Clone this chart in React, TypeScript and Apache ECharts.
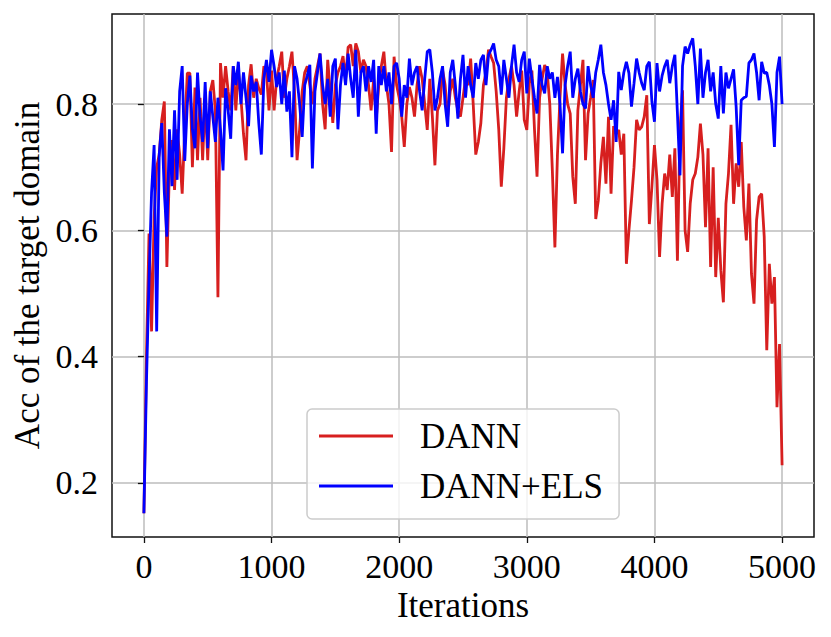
import React, { useEffect, useRef } from "react";
import * as echarts from "echarts";

const STEP = 20;
const iterations: number[] = Array.from({ length: 251 }, (_, i) => i * STEP);

const dann: number[] = [
  0.152, 0.40, 0.595, 0.44, 0.62, 0.70, 0.72, 0.775, 0.804, 0.542,
  0.70, 0.743, 0.664, 0.76, 0.72, 0.658, 0.76, 0.849, 0.849, 0.70,
  0.826, 0.711, 0.81, 0.711, 0.81, 0.711, 0.82, 0.838, 0.79, 0.494,
  0.865, 0.81, 0.86, 0.82, 0.79, 0.86, 0.79, 0.853, 0.81, 0.753,
  0.711, 0.83, 0.863, 0.81, 0.84, 0.825, 0.815, 0.86, 0.85, 0.79,
  0.853, 0.79, 0.84, 0.86, 0.883, 0.81, 0.84, 0.86, 0.883, 0.82,
  0.711, 0.76, 0.82, 0.85, 0.86, 0.83, 0.80, 0.84, 0.86, 0.88,
  0.80, 0.76, 0.87, 0.82, 0.77, 0.83, 0.85, 0.86, 0.876, 0.84,
  0.89, 0.894, 0.86, 0.896, 0.883, 0.85, 0.87, 0.86, 0.83, 0.79,
  0.84, 0.775, 0.83, 0.86, 0.883, 0.83, 0.80, 0.724, 0.875, 0.83,
  0.81, 0.78, 0.732, 0.80, 0.827, 0.81, 0.78, 0.83, 0.86, 0.84,
  0.80, 0.759, 0.84, 0.78, 0.703, 0.79, 0.80, 0.854, 0.83, 0.78,
  0.82, 0.84, 0.81, 0.79, 0.78, 0.81, 0.84, 0.83, 0.872, 0.80,
  0.72, 0.74, 0.77, 0.83, 0.85, 0.886, 0.875, 0.865, 0.82, 0.76,
  0.669, 0.73, 0.81, 0.84, 0.86, 0.83, 0.78, 0.82, 0.853, 0.775,
  0.759, 0.833, 0.853, 0.76, 0.685, 0.81, 0.84, 0.862, 0.85, 0.80,
  0.695, 0.573, 0.72, 0.81, 0.88, 0.83, 0.80, 0.785, 0.685, 0.642,
  0.79, 0.83, 0.87, 0.711, 0.785, 0.81, 0.838, 0.618, 0.647, 0.706,
  0.748, 0.674, 0.78, 0.658, 0.765, 0.753, 0.759, 0.72, 0.753, 0.547,
  0.60, 0.647, 0.70, 0.775, 0.759, 0.764, 0.78, 0.814, 0.61, 0.669,
  0.735, 0.68, 0.558, 0.642, 0.69, 0.664, 0.72, 0.653, 0.73, 0.552,
  0.759, 0.822, 0.60, 0.566, 0.642, 0.68, 0.69, 0.716, 0.769, 0.72,
  0.605, 0.73, 0.542, 0.70, 0.526, 0.62, 0.537, 0.486, 0.642, 0.69,
  0.767, 0.642, 0.706, 0.669, 0.74, 0.637, 0.584, 0.674, 0.531, 0.484,
  0.616, 0.653, 0.658, 0.59, 0.41, 0.547, 0.484, 0.526, 0.32, 0.42,
  0.228,
];

const dannEls: number[] = [
  0.152, 0.36, 0.52, 0.66, 0.735, 0.44, 0.72, 0.77, 0.66, 0.59,
  0.76, 0.67, 0.79, 0.68, 0.82, 0.86, 0.71, 0.80, 0.845, 0.76,
  0.73, 0.85, 0.78, 0.74, 0.835, 0.73, 0.82, 0.78, 0.74, 0.81,
  0.76, 0.695, 0.825, 0.79, 0.745, 0.86, 0.83, 0.867, 0.80, 0.85,
  0.81, 0.765, 0.845, 0.82, 0.835, 0.77, 0.72, 0.84, 0.87, 0.835,
  0.886, 0.86, 0.827, 0.85, 0.80, 0.853, 0.788, 0.82, 0.716, 0.86,
  0.84, 0.80, 0.748, 0.83, 0.845, 0.862, 0.698, 0.82, 0.85, 0.88,
  0.83, 0.80, 0.84, 0.78, 0.86, 0.872, 0.76, 0.83, 0.865, 0.83,
  0.88, 0.84, 0.81, 0.886, 0.78, 0.85, 0.86, 0.82, 0.86, 0.835,
  0.87, 0.753, 0.86, 0.83, 0.86, 0.82, 0.85, 0.80, 0.86, 0.865,
  0.84, 0.78, 0.83, 0.81, 0.872, 0.83, 0.85, 0.86, 0.82, 0.79,
  0.84, 0.883, 0.886, 0.85, 0.79, 0.81, 0.84, 0.86, 0.80, 0.764,
  0.85, 0.87, 0.83, 0.777, 0.84, 0.878, 0.81, 0.86, 0.83, 0.81,
  0.865, 0.84, 0.87, 0.878, 0.83, 0.878, 0.886, 0.896, 0.87, 0.86,
  0.815, 0.87, 0.84, 0.81, 0.86, 0.894, 0.85, 0.835, 0.87, 0.883,
  0.817, 0.872, 0.84, 0.81, 0.785, 0.862, 0.83, 0.817, 0.86, 0.84,
  0.85, 0.81, 0.843, 0.80, 0.722, 0.83, 0.86, 0.883, 0.81, 0.84,
  0.856, 0.82, 0.80, 0.793, 0.86, 0.83, 0.81, 0.85, 0.87, 0.894,
  0.85, 0.83, 0.80, 0.775, 0.806, 0.74, 0.851, 0.822, 0.85, 0.867,
  0.849, 0.796, 0.833, 0.872, 0.85, 0.833, 0.822, 0.86, 0.867, 0.804,
  0.772, 0.865, 0.82, 0.845, 0.86, 0.87, 0.833, 0.86, 0.878, 0.785,
  0.687, 0.86, 0.891, 0.88, 0.894, 0.904, 0.86, 0.80, 0.888, 0.81,
  0.85, 0.87, 0.82, 0.85, 0.80, 0.777, 0.86, 0.785, 0.85, 0.825,
  0.84, 0.855, 0.796, 0.703, 0.806, 0.81, 0.812, 0.865, 0.87, 0.88,
  0.85, 0.806, 0.867, 0.849, 0.85, 0.83, 0.80, 0.732, 0.85, 0.875,
  0.80,
];

const seriesNames = ["DANN", "DANN+ELS"];
const seriesColors = ["#d71f1f", "#0000ff"];
const xTicks = [0, 1000, 2000, 3000, 4000, 5000];
const yTicks = [0.2, 0.4, 0.6, 0.8];

const FONT = '"Liberation Serif", "Times New Roman", Times, serif';

export default function App() {
  const ref = useRef<HTMLDivElement>(null);

  useEffect(() => {
    if (!ref.current) return;
    const chart = echarts.init(ref.current, undefined, { renderer: "svg" });
    const toPairs = (vals: number[]) => iterations.map((x, i) => [x, vals[i]]);
    const gridLine = { show: true, lineStyle: { color: "#bdbdbd", width: 1.5 } };

    chart.setOption({
      animation: false,
      backgroundColor: "#ffffff",
      grid: {
        left: 112,
        right: 17,
        top: 14,
        bottom: 100,
        show: true,
        borderColor: "#111111",
        borderWidth: 1.5,
        backgroundColor: "transparent",
      },
      legend: {
        orient: "vertical",
        left: 307,
        top: 409,
        data: seriesNames,
        icon: "rect",
        itemWidth: 74,
        itemHeight: 3,
        itemGap: 12,
        padding: [8, 16, 14, 12],
        backgroundColor: "rgba(255,255,255,0.8)",
        borderColor: "#cccccc",
        borderWidth: 1.5,
        borderRadius: 5,
        textStyle: {
          fontFamily: FONT,
          fontSize: 35,
          color: "#000000",
          lineHeight: 38,
          padding: [0, 0, 0, 22],
        },
      },
      xAxis: {
        type: "value",
        min: -250,
        max: 5250,
        name: "Iterations",
        nameLocation: "middle",
        nameGap: 46,
        nameTextStyle: { fontFamily: FONT, fontSize: 35, color: "#000" },
        axisLine: { show: false },
        axisTick: { show: true, customValues: xTicks, length: 6, lineStyle: { color: "#111", width: 1.3 } },
        axisLabel: {
          customValues: xTicks,
          fontFamily: FONT,
          fontSize: 34,
          color: "#000",
          margin: 12,
          formatter: (v: number) => String(v),
        },
        splitLine: gridLine,
      },
      yAxis: {
        type: "value",
        min: 0.1144,
        max: 0.9426,
        name: "Acc of the target domain",
        nameLocation: "middle",
        nameGap: 66,
        nameTextStyle: { fontFamily: FONT, fontSize: 35, color: "#000" },
        axisLine: { show: false },
        axisTick: { show: true, customValues: yTicks, length: 6, lineStyle: { color: "#111", width: 1.3 } },
        axisLabel: {
          customValues: yTicks,
          fontFamily: FONT,
          fontSize: 34,
          color: "#000",
          margin: 14,
          formatter: (v: number) => v.toFixed(1),
        },
        splitLine: gridLine,
      },
      series: [
        {
          name: seriesNames[0],
          type: "line",
          data: toPairs(dann),
          showSymbol: false,
          symbol: "none",
          lineStyle: { color: seriesColors[0], width: 2.8 },
          itemStyle: { color: seriesColors[0] },
          z: 2,
        },
        {
          name: seriesNames[1],
          type: "line",
          data: toPairs(dannEls),
          showSymbol: false,
          symbol: "none",
          lineStyle: { color: seriesColors[1], width: 2.8 },
          itemStyle: { color: seriesColors[1] },
          z: 3,
        },
      ],
    });

    return () => chart.dispose();
  }, []);

  return (
    <div
      ref={ref}
      style={{ position: "fixed", left: 0, top: 0, width: 831, height: 637, background: "#fff" }}
    />
  );
}
